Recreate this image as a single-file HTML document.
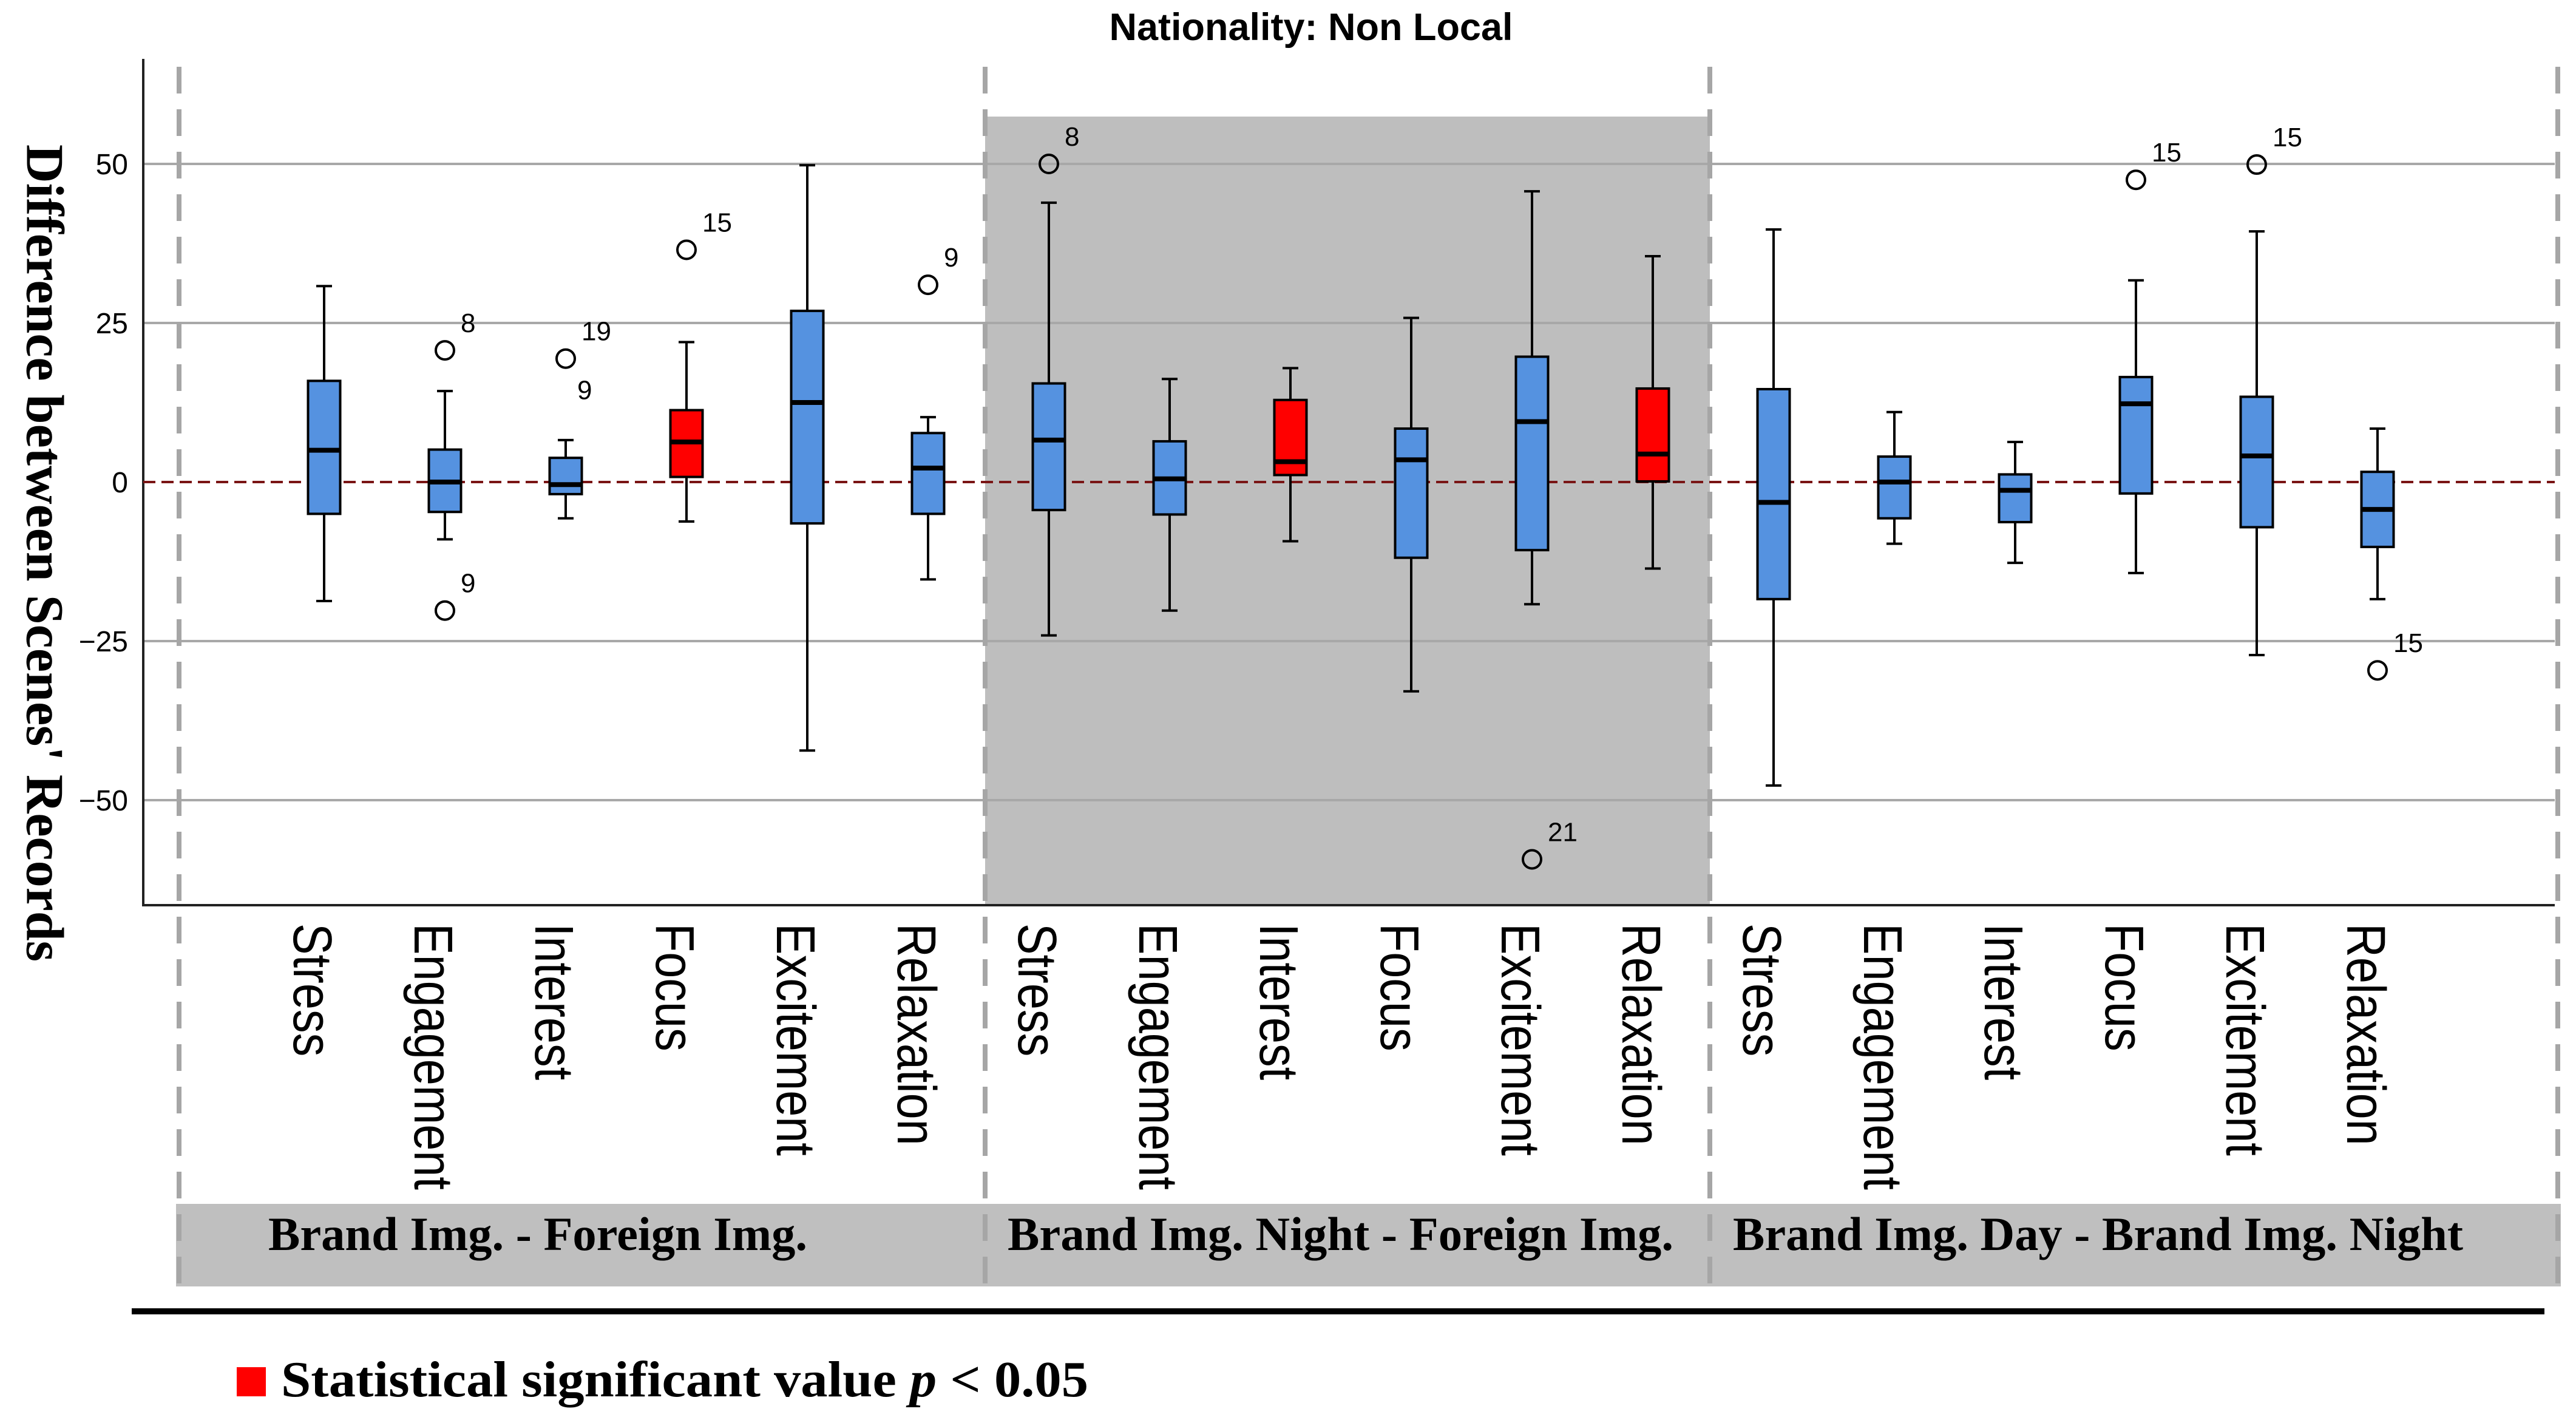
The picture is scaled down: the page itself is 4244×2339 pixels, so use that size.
<!DOCTYPE html>
<html><head><meta charset="utf-8"><style>
html,body{margin:0;padding:0;background:#fff;}
svg{display:block;}
</style></head><body>
<svg id="chart" width="4244" height="2339" viewBox="0 0 4244 2339" xmlns="http://www.w3.org/2000/svg">
<rect x="0" y="0" width="4244" height="2339" fill="#fff"/>
<text x="2160" y="66" text-anchor="middle" font-family="Liberation Sans, sans-serif" font-weight="bold" font-size="63">Nationality: Non Local</text>
<text transform="translate(73,911) rotate(90)" text-anchor="middle" dominant-baseline="central" font-family="Liberation Serif, serif" font-weight="bold" font-size="88" textLength="1346" lengthAdjust="spacingAndGlyphs">Difference between Scenes' Records</text>
<g id="plot"></g>
<rect x="290" y="1983" width="3929" height="136" fill="#bfbfbf"/>
<text x="442" y="2059" font-family="Liberation Serif, serif" font-weight="bold" font-size="78" textLength="888" lengthAdjust="spacingAndGlyphs">Brand Img. - Foreign Img.</text>
<text x="1660" y="2059" font-family="Liberation Serif, serif" font-weight="bold" font-size="78" textLength="1097" lengthAdjust="spacingAndGlyphs">Brand Img. Night - Foreign Img.</text>
<text x="2855" y="2059" font-family="Liberation Serif, serif" font-weight="bold" font-size="78" textLength="1203" lengthAdjust="spacingAndGlyphs">Brand Img. Day - Brand Img. Night</text>
<g id="seps"></g>
<rect x="217" y="2155" width="3975" height="10" fill="#000"/>
<rect x="390" y="2252" width="48" height="48" fill="#ff0000"/>
<text x="463" y="2300" font-family="Liberation Serif, serif" font-weight="bold" font-size="84" textLength="1330" lengthAdjust="spacingAndGlyphs">Statistical significant value <tspan font-style="italic">p</tspan> &lt; 0.05</text>
</svg>
<script>
const categories = ["Stress","Engagement","Interest","Focus","Excitement","Relaxation",
  "Stress","Engagement","Interest","Focus","Excitement","Relaxation",
  "Stress","Engagement","Interest","Focus","Excitement","Relaxation"];
const mins    = [-18.7,-9,-5.7,-6.2,-42.2,-15.3,  -24.1,-20.2,-9.3,-32.9,-19.2,-13.6,  -47.7,-9.7,-12.7,-14.3,-27.2,-18.4];
const q1s     = [-5,-4.7,-1.9,0.8,-6.5,-5,        -4.4,-5.1,1.1,-11.9,-10.7,0.1,       -18.4,-5.7,-6.3,-1.8,-7.1,-10.2];
const medians = [5,0,-0.4,6.3,12.5,2.2,           6.6,0.5,3.2,3.5,9.5,4.4,             -3.2,0,-1.3,12.3,4.1,-4.3];
const q3s     = [15.9,5.1,3.8,11.3,26.9,7.7,      15.5,6.4,12.9,8.4,19.7,14.7,         14.6,4,1.2,16.5,13.4,1.6];
const maxs    = [30.8,14.3,6.6,22,49.8,10.2,      43.9,16.2,17.9,25.8,45.7,35.5,       39.7,11,6.3,31.7,39.4,8.4];
const significant = [0,0,0,1,0,0, 0,0,1,0,0,1, 0,0,0,0,0,0];
const outlierCats   = [1,1,2,3,5,6,10,15,16,17];
const outlierValues = [20.7,-20.2,19.4,36.5,31,50,-59.3,47.5,49.9,-29.6];
const outlierLabels = ["8","9","19","15","9","8","21","15","15","15"];
const yTicks = [50,25,0,-25,-50];

const NS="http://www.w3.org/2000/svg";
const X0=236, X1=4209, YTOP=97, YBOT=1491;
function yScale(v){ return 794 - v*10.48; }
function xScale(i){ return 534 + i*199; }
function mk(tag, attrs, parent){ const e=document.createElementNS(NS,tag); for(const k in attrs) e.setAttribute(k,attrs[k]); parent.appendChild(e); return e; }
const plot=document.getElementById('plot');

const panel=mk('rect',{x:1623,y:192,width:1194,height:YBOT-192,fill:'#bebebe'},plot);



yTicks.forEach(t=>{
  if(t!==0){
    const g=mk('line',{x1:X0,x2:X1,y1:yScale(t),y2:yScale(t),stroke:'#a8a8a8','stroke-width':4},plot);
    
    
  }
  const tl=mk('text',{x:211,y:yScale(t)+17,'text-anchor':'end','font-family':'Liberation Sans, sans-serif','font-size':48},plot);
  tl.textContent=(t<0?'\u2212':'')+Math.abs(t);
  
  
});
const ax=mk('path',{d:`M${X0},${YTOP} L${X0},${YBOT} L${X1},${YBOT}`,fill:'none',stroke:'#222','stroke-width':4},plot);


const zl=mk('line',{x1:X0,x2:X1,y1:yScale(0),y2:yScale(0),stroke:'#7a1515','stroke-width':4,'stroke-dasharray':'20 10'},plot);



categories.forEach((c,i)=>{
  const x=xScale(i), w=53, cw=26;
  const g=mk('g',{},plot);
  
  
  mk('line',{x1:x,x2:x,y1:yScale(maxs[i]),y2:yScale(q3s[i]),stroke:'#000','stroke-width':4},g);
  mk('line',{x1:x,x2:x,y1:yScale(q1s[i]),y2:yScale(mins[i]),stroke:'#000','stroke-width':4},g);
  mk('line',{x1:x-cw/2,x2:x+cw/2,y1:yScale(maxs[i]),y2:yScale(maxs[i]),stroke:'#000','stroke-width':4},g);
  mk('line',{x1:x-cw/2,x2:x+cw/2,y1:yScale(mins[i]),y2:yScale(mins[i]),stroke:'#000','stroke-width':4},g);
  mk('rect',{x:x-w/2,y:yScale(q3s[i]),width:w,height:yScale(q1s[i])-yScale(q3s[i]),fill:significant[i]?'#ff0000':'#5592e0',stroke:'#000','stroke-width':4},g);
  mk('line',{x1:x-w/2,x2:x+w/2,y1:yScale(medians[i]),y2:yScale(medians[i]),stroke:'#000','stroke-width':8},g);
  const lbl=mk('text',{transform:`translate(${x-19},1521) rotate(90) scale(0.86,1)`,'dominant-baseline':'central','font-family':'Liberation Sans, sans-serif','font-size':90},plot);
  lbl.textContent=c;
  
  
});

outlierCats.forEach((ci,k)=>{
  const x=xScale(ci), y=yScale(outlierValues[k]);
  const dup = outlierLabels[k]==='19';
  const c=mk('circle',{cx:x,cy:y,r:15,fill:'none',stroke:'#000','stroke-width':4},plot);
  
  
  const t=mk('text',{x:x+26,y:y-30,'font-family':'Liberation Sans, sans-serif','font-size':44},plot);
  t.textContent=outlierLabels[k];
  
  
  if(dup){
    const t2=mk('text',{x:x+19,y:y+67,'font-family':'Liberation Sans, sans-serif','font-size':44},plot);
    t2.textContent='9';
    
    
  }
});

const seps=document.getElementById('seps');
[295,1623,2817,4214].forEach(sx=>{
  const l=mk('line',{x1:sx,x2:sx,y1:110,y2:2119,stroke:'#a6a6a6','stroke-width':8,'stroke-dasharray':'44 26'},seps);
  
  
});
</script>
</body></html>
